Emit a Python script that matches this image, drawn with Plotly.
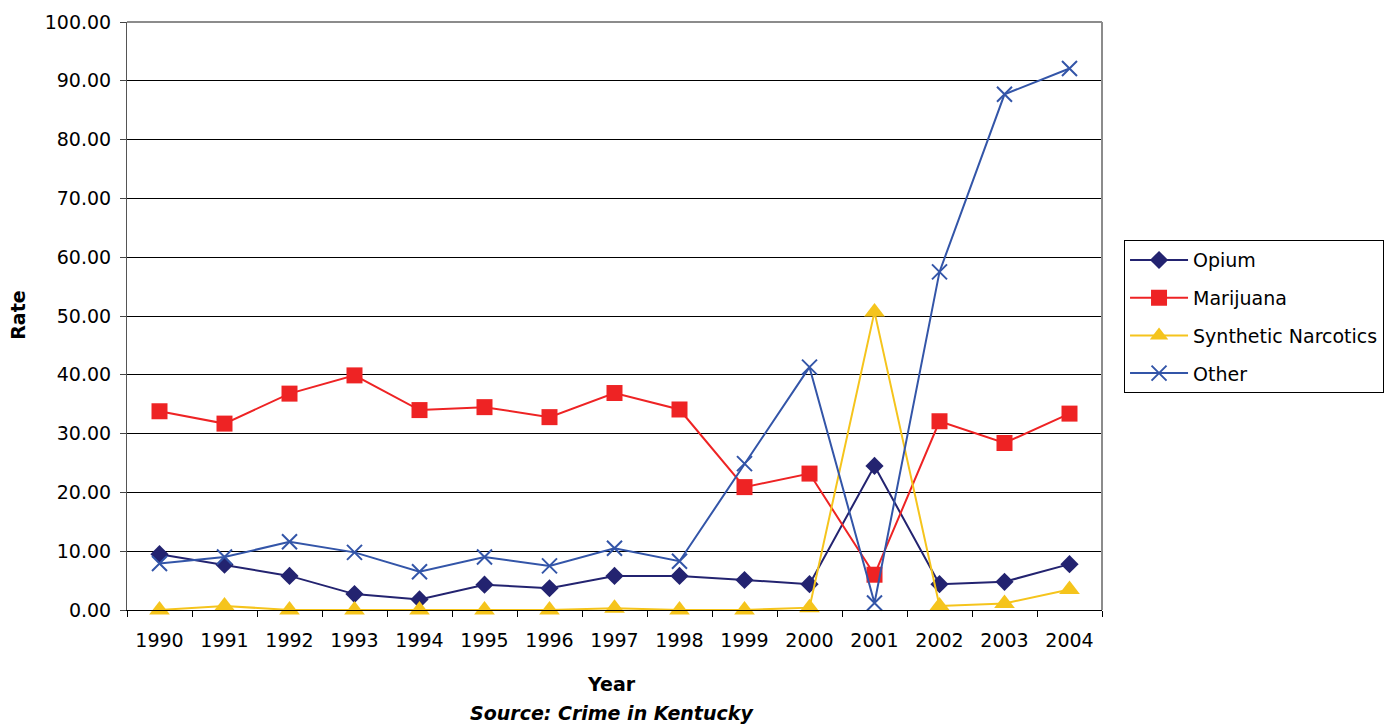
import plotly.graph_objects as go

# Drug arrest rates in Kentucky, by drug type
years = ["1990", "1991", "1992", "1993", "1994", "1995", "1996", "1997",
         "1998", "1999", "2000", "2001", "2002", "2003", "2004"]
opium = [9.5, 7.7, 5.8, 2.7, 1.8, 4.3, 3.7, 5.8, 5.8, 5.1, 4.4, 24.5, 4.4, 4.8, 7.8]
marijuana = [33.8, 31.7, 36.8, 39.9, 34.0, 34.5, 32.8, 36.9, 34.1, 20.9, 23.2, 6.0, 32.1, 28.4, 33.4]
synthetic = [0.0, 0.7, 0.0, 0.0, 0.0, 0.0, 0.0, 0.3, 0.0, 0.0, 0.4, 50.7, 0.7, 1.1, 3.5]
other = [7.9, 9.0, 11.6, 9.8, 6.5, 9.0, 7.5, 10.5, 8.3, 24.9, 41.3, 1.2, 57.5, 87.7, 92.1]

series = [
    ("Opium", opium, "#232370", dict(symbol="diamond", size=14)),
    ("Marijuana", marijuana, "#EE2324", dict(symbol="square", size=16)),
    ("Synthetic Narcotics", synthetic, "#F5C41C", dict(symbol="triangle-up", size=18)),
    ("Other", other, "#3355A8", dict(symbol="x-thin-open", size=15)),
]

FONT = "DejaVu Sans"

fig = go.Figure()
for name, vals, color, mk in series:
    marker = dict(color=color, **mk)
    if mk["symbol"] == "x-thin-open":
        marker["line"] = dict(color=color, width=2)
    else:
        marker["line"] = dict(width=0)
    fig.add_trace(go.Scatter(
        x=years, y=vals, name=name, mode="lines+markers",
        line=dict(color=color, width=2), marker=marker,
        cliponaxis=False, legendgroup=name,
    ))

fig.update_layout(
    width=1397, height=727,
    margin=dict(l=127, r=295, t=22, b=117),
    paper_bgcolor="white", plot_bgcolor="white",
    font=dict(family=FONT, size=19, color="black"),
    showlegend=True,
    legend=dict(
        x=1.0226, y=0.629, xanchor="left", yanchor="top",
        bordercolor="black", borderwidth=1, bgcolor="white",
        font=dict(family=FONT, size=19),
        tracegroupgap=10, itemwidth=58,
    ),
    xaxis=dict(
        type="category", range=[-0.5, 14.5], tickson="boundaries",
        ticks="outside", ticklen=6, ticklabelstandoff=13,
        tickcolor="black", showline=True, linecolor="black", linewidth=1,
        showgrid=False, tickfont=dict(size=19),
    ),
    yaxis=dict(
        range=[0, 100], dtick=10, tickformat=".2f", ticks="outside",
        ticklen=6, ticklabelstandoff=5, tickcolor="#444", showline=True,
        linecolor="#555", linewidth=1, showgrid=True, gridcolor="black",
        gridwidth=1, zeroline=False, tickfont=dict(size=19),
    ),
    annotations=[
        dict(text="<b>Rate</b>", xref="paper", yref="paper", x=-0.1118, y=0.502,
             xanchor="center", yanchor="middle",
             textangle=-90, showarrow=False, font=dict(size=19)),
        dict(text="<b>Year</b>", xref="paper", yref="paper", x=0.497, y=-0.126,
             xanchor="center", yanchor="middle",
             showarrow=False, font=dict(size=19)),
        dict(text="<b><i>Source: Crime in Kentucky</i></b>", xref="paper",
             yref="paper", x=0.497, y=-0.175, xanchor="center", yanchor="middle",
             showarrow=False, font=dict(size=19)),
    ],
    shapes=[
        dict(type="line", xref="paper", yref="paper", x0=0, x1=1, y0=1, y1=1,
             line=dict(color="#8c8c8c", width=2), layer="above"),
        dict(type="line", xref="paper", yref="paper", x0=1, x1=1, y0=0, y1=1,
             line=dict(color="#8c8c8c", width=2), layer="above"),
    ],
)

fig.write_html("out.html")
